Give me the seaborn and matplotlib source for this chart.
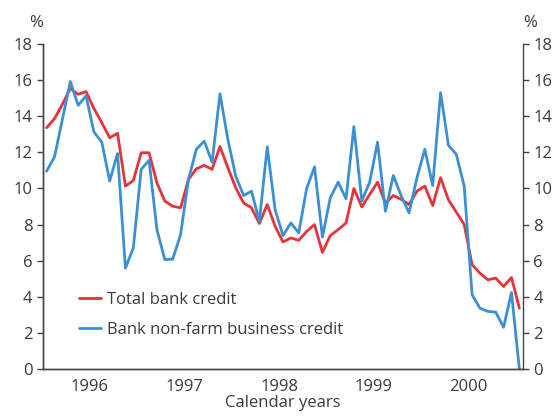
import numpy as np
import pandas as pd
import matplotlib
matplotlib.use('Agg')
import matplotlib.pyplot as plt
import seaborn as sns

# Monthly year-ended growth, Jan 1996 - Jan 2001 (%)
total_credit = [13.37, 13.87, 14.67, 15.54, 15.22, 15.37, 14.43, 13.65, 12.81, 13.06,
                10.13, 10.44, 11.98, 11.98, 10.31, 9.30, 9.02, 8.93, 10.5, 11.09,
                11.28, 11.06, 12.33, 11.15, 10.04, 9.2, 8.93, 8.06, 9.11, 7.91,
                7.04, 7.26, 7.13, 7.62, 8.0, 6.46, 7.39, 7.72, 8.09, 10.0,
                8.98, 9.67, 10.35, 9.17, 9.61, 9.4, 9.11, 9.85, 10.13, 9.06,
                10.6, 9.37, 8.69, 8.0, 5.78, 5.31, 4.94, 5.04, 4.57, 5.07, 3.37]
business_credit = [10.96, 11.76, 13.83, 15.93, 14.61, 15.13, 13.13, 12.57, 10.41, 11.94,
                   5.59, 6.7, 11.06, 11.56, 7.72, 6.06, 6.09, 7.44, 10.5, 12.17,
                   12.63, 11.46, 15.25, 12.72, 10.69, 9.61, 9.85, 8.19, 12.31, 8.83,
                   7.39, 8.09, 7.54, 10.0, 11.2, 7.31, 9.48, 10.35, 9.43, 13.43,
                   9.3, 10.35, 12.57, 8.74, 10.72, 9.6, 8.65, 10.59, 12.17, 10.17,
                   15.31, 12.39, 11.89, 10.13, 4.11, 3.37, 3.19, 3.15, 2.31, 4.24, 0.0]
series_names = ['Total bank credit', 'Bank non-farm business credit']
year_labels = ['1996', '1997', '1998', '1999', '2000']

months = pd.date_range('1996-01-01', periods=len(total_credit), freq='MS')
x = months.year + (months.month - 0.5) / 12

df = pd.concat([
    pd.DataFrame({'x': x, 'value': total_credit, 'series': series_names[0]}),
    pd.DataFrame({'x': x, 'value': business_credit, 'series': series_names[1]}),
])

sns.set_style('white')
plt.rcParams['font.family'] = ['Open Sans', 'DejaVu Sans']
text_col = '#3a3a3a'

fig = plt.figure(figsize=(5.56, 4.16), dpi=100)
ax = fig.add_axes([0.0768, 0.113, 0.8638, 0.781])

sns.lineplot(data=df, x='x', y='value', hue='series', hue_order=series_names,
             palette=['#E8323C', '#3D8FD4'], linewidth=2.0, ax=ax)

ax.set_xlim(1996.0, 2001.08)
ax.set_ylim(0, 18)
ax.set_yticks(np.arange(0, 19, 2))
ax.set_xticks([1997, 1998, 1999, 2000, 2001])
ax.set_xticklabels([])
ax.set_xticks([int(y) + 0.5 for y in year_labels], minor=True)
ax.set_xticklabels(year_labels, minor=True)
ax.tick_params(axis='x', which='minor', length=0, pad=7)
ax.tick_params(axis='x', which='major', length=4, width=1, color='#444444', direction='out')
ax.tick_params(axis='y', length=4, width=1, color='#444444', direction='out')
ax.tick_params(which='both', labelsize=12, labelcolor=text_col)
ax.set_xlabel('Calendar years', fontsize=12, color=text_col, labelpad=0)
ax.set_ylabel('')

ax2 = ax.twinx()
ax2.set_ylim(0, 18)
ax2.set_yticks(np.arange(0, 19, 2))
ax2.tick_params(axis='y', length=4, width=1, color='#444444', direction='out',
                labelsize=12, labelcolor=text_col)

for a in (ax, ax2):
    a.spines['top'].set_visible(False)
    for s in ('left', 'right', 'bottom'):
        a.spines[s].set_color('#444444')
        a.spines[s].set_linewidth(1.0)
ax.spines['right'].set_visible(False)

ax.text(0, 1.04, '%', transform=ax.transAxes, ha='right', va='bottom',
        fontsize=12, color=text_col)
ax.text(1, 1.04, '%', transform=ax.transAxes, ha='left', va='bottom',
        fontsize=12, color=text_col)

leg = ax.legend(loc='lower left', bbox_to_anchor=(0.045, 0.05), frameon=False,
                fontsize=12, handlelength=1.3, handletextpad=0.35, labelspacing=0.85)
for t in leg.get_texts():
    t.set_color(text_col)

fig.savefig('out.png', dpi=100)
